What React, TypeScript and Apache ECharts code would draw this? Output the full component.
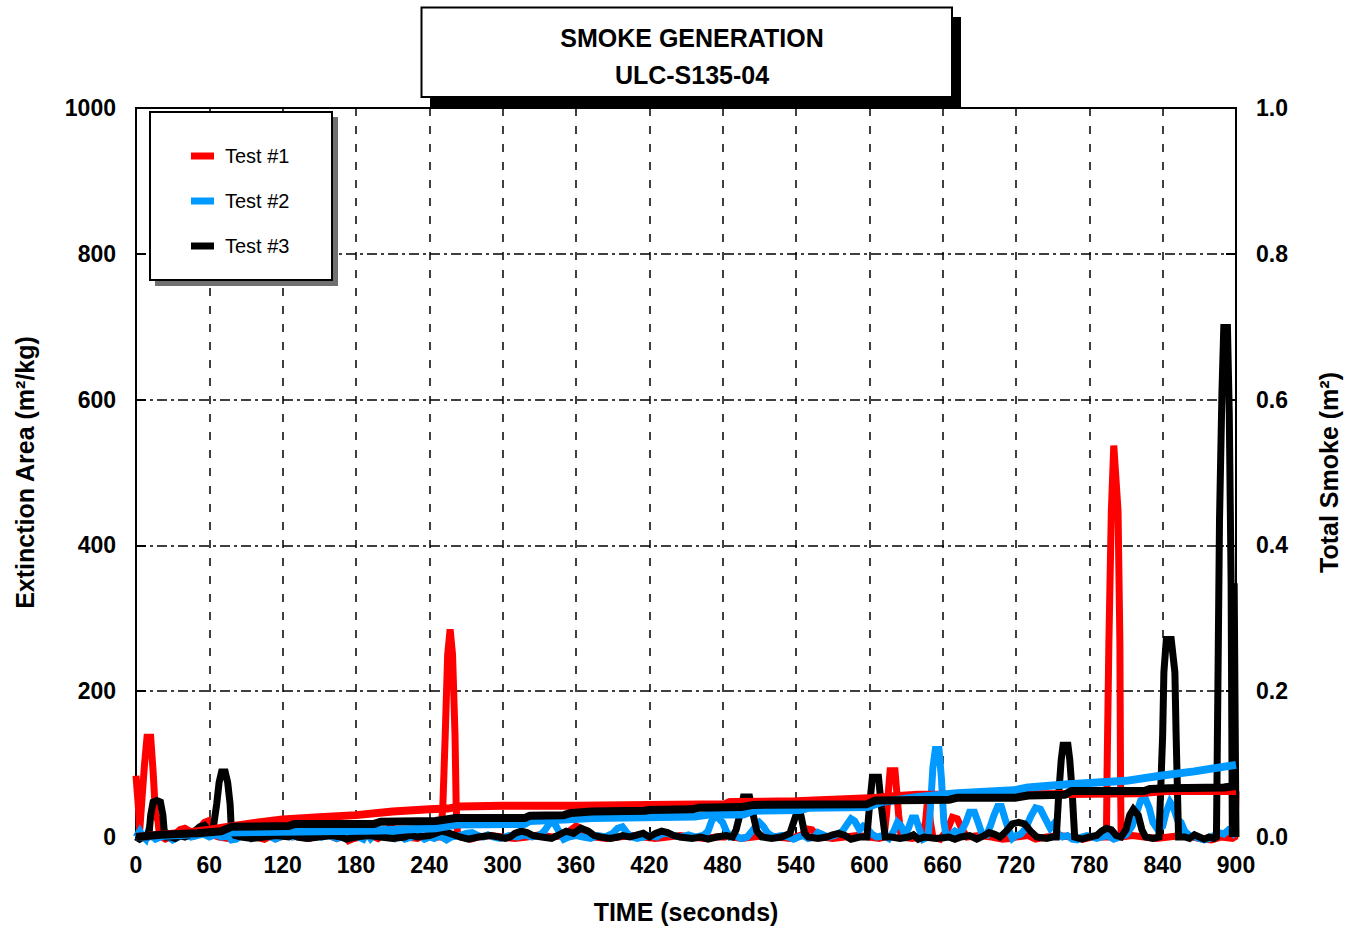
import React, { useEffect, useRef } from "react";
import * as echarts from "echarts";

// ---------- labels ----------
const TITLE_LINES = ["SMOKE GENERATION", "ULC-S135-04"];
const X_NAME = "TIME (seconds)";
const LEFT_NAME = "Extinction Area (m²/kg)";
const RIGHT_NAME = "Total Smoke (m²)";
const SERIES_NAMES = ["Test #1", "Test #2", "Test #3"];
const TOTAL_NAMES = ["Test #1 total", "Test #2 total", "Test #3 total"];
const COLORS = ["#FF0000", "#0099FF", "#000000"];

// ---------- axis ranges ----------
const X_RANGE = [0, 900, 60];
const LEFT_RANGE = [0, 1000, 200];
const RIGHT_RANGE = [0, 1, 0.2];

// ---------- extinction area (m²/kg), [time s, value] ----------
const TEST1_EXT: [number, number][] = [
  [0, 84], [2, 40], [3, 8], [5, 55], [7, 100], [9, 137], [12, 137], [14, 90], [16, 30], [18, 22], [19, 5], [21, 0],
  [24, -3], [28, 0], [32, 4], [36, 10], [40, 12], [44, 8], [48, 3], [52, 12], [56, 20], [59, 22], [61, 8], [64, 2],
  [68, 0], [75, -2], [82, 0], [90, 2], [98, 0], [105, -3], [112, 3], [118, 0], [126, 2], [134, 0], [142, -2],
  [150, 3], [154, 8], [158, 2], [164, -2], [170, 6], [174, -5], [178, -2], [184, 0], [192, 2], [198, -2], [204, 6],
  [208, 14], [212, 10], [216, 2], [222, 0], [230, -2], [238, 2], [244, 0], [249, 0], [251, 40], [253, 140],
  [255, 250], [257, 285], [259, 250], [261, 140], [262, 40], [263, 5], [266, 0], [274, -3], [280, 0], [290, 2],
  [300, 0], [310, -2], [320, 0], [330, 3], [340, 0], [350, 2], [356, 10], [360, 15], [364, 12], [368, 2], [375, 0],
  [385, -2], [395, 0], [405, 2], [415, 0], [425, -2], [435, 0], [445, 2], [455, 0], [465, -2], [475, 0], [482, 0],
  [485, 3], [488, 0], [495, -2], [505, 0], [515, 2], [525, 0], [535, -2], [545, 3], [549, 11], [553, 10], [557, 2],
  [562, 0], [570, -2], [580, 0], [590, 2], [600, 0], [608, -2], [612, 0], [614, 30], [617, 91], [621, 91], [624, 30],
  [626, 0], [635, -2], [642, 0], [646, 20], [648, 58], [650, 20], [652, 0], [658, -3], [664, 10], [668, 27],
  [672, 25], [676, 10], [680, 0], [690, 2], [700, 0], [709, -3], [715, -2], [720, 0], [730, 2], [736, -3], [745, 0],
  [755, 2], [765, 0], [775, -3], [782, 0], [790, 0], [794, 0], [794.5, 89], [796, 267], [798, 447], [800, 537],
  [803.5, 447], [805, 267], [805.5, 89], [806, 0], [815, 2], [825, 0], [835, -2], [845, 0], [855, 2], [865, 0],
  [870, -2], [880, -4], [888, 0], [897, -2], [899, 0], [900, 63],
];

const TEST2_EXT: [number, number][] = [
  [0, 0], [3, 8], [5, 2], [8, -3], [10, 8], [13, 2], [16, -3], [20, 0], [25, 2], [30, -4], [35, 0], [40, 3], [45, 0],
  [50, 2], [55, 4], [60, 0], [65, 3], [70, 0], [75, 2], [78, -4], [82, -3], [86, 2], [90, 3], [94, -2], [98, 3],
  [102, 0], [108, 2], [114, -3], [118, 0], [124, 4], [128, 0], [134, 2], [140, 0], [145, 7], [148, 3], [152, 0],
  [158, 2], [164, -2], [170, 0], [176, 3], [182, 0], [186, -3], [189, 6], [192, -2], [196, 5], [200, 10], [205, 10],
  [208, 4], [212, -2], [216, 2], [220, -3], [226, 0], [232, 2], [236, -3], [240, 0], [244, -2], [248, 2], [254, -4],
  [258, 0], [265, 2], [270, 5], [275, 6], [280, 2], [284, 0], [288, 3], [292, 0], [298, -2], [305, 2], [312, 0],
  [318, 3], [324, 0], [330, 2], [334, 8], [338, 18], [342, 20], [346, 8], [350, -3], [354, 0], [360, 2], [366, 0],
  [372, -2], [378, 2], [384, 0], [390, 5], [394, 12], [398, 14], [402, 5], [406, 0], [410, -2], [415, 0], [420, 2],
  [426, 0], [430, 4], [435, 5], [440, 2], [446, 0], [452, 3], [458, 0], [464, 2], [468, 8], [471, 22], [474, 29],
  [477, 25], [480, 20], [483, 8], [486, 0], [490, 2], [495, -2], [500, 0], [504, 8], [507, 15], [510, 20], [513, 15],
  [517, 5], [522, 0], [528, 2], [534, 0], [538, -3], [542, 0], [546, 2], [550, -2], [555, 0], [558, 6], [562, 3],
  [566, 0], [572, 2], [578, 8], [582, 18], [585, 25], [588, 22], [592, 10], [595, 15], [598, 12], [602, 4], [606, 0],
  [612, 2], [616, -2], [620, 8], [623, 20], [626, 15], [629, 4], [632, 12], [635, 26], [638, 26], [641, 10],
  [644, -3], [648, 0], [650, 40], [652, 95], [654, 120], [657, 120], [659, 80], [661, 20], [663, 0], [666, 2],
  [670, 8], [673, 5], [676, 10], [679, 20], [682, 34], [686, 34], [689, 20], [692, 5], [696, 3], [699, 15], [702, 30],
  [705, 42], [708, 42], [711, 25], [714, 10], [717, -2], [720, 2], [724, 4], [728, 12], [732, 28], [736, 40],
  [740, 38], [744, 25], [748, 12], [751, 18], [754, 5], [758, 0], [762, 2], [766, -3], [770, -4], [774, 0], [778, 2],
  [782, 0], [786, -2], [790, 0], [795, 2], [800, -3], [805, 0], [810, 3], [815, 15], [819, 35], [822, 50], [826, 52],
  [829, 40], [832, 20], [836, 10], [840, 15], [843, 35], [846, 48], [849, 40], [852, 24], [855, 20], [858, 8],
  [862, 2], [866, 0], [870, -2], [874, -4], [878, -2], [882, 2], [886, 6], [890, 4], [894, 10], [897, 8], [900, 0],
];

const TEST3_EXT: [number, number][] = [
  [0, 0], [3, -3], [6, 0], [9, 0], [11, 10], [12, 30], [14, 48], [17, 50], [20, 48], [22, 30], [23, 10], [25, 0],
  [28, 0], [32, -2], [36, 2], [40, 0], [44, 3], [48, 8], [52, 14], [56, 16], [60, 8], [63, 10], [66, 45], [68, 75],
  [70, 89], [73, 89], [75, 75], [77, 45], [78, 10], [81, 2], [86, 0], [95, -2], [105, 0], [115, 2], [125, 0],
  [128, 3], [132, 0], [140, -2], [150, 0], [160, 2], [168, 0], [172, -3], [180, 0], [190, 2], [200, 0], [210, -2],
  [220, 0], [224, 3], [230, 0], [240, 2], [245, 5], [250, 8], [255, 6], [260, 3], [265, 0], [272, -3], [280, 0],
  [290, 2], [297, 0], [302, -2], [306, 0], [310, 5], [315, 8], [320, 6], [325, 2], [332, 0], [340, -2], [346, 3],
  [352, 8], [358, 5], [364, 12], [370, 8], [375, 2], [380, 0], [388, -2], [394, 0], [398, 2], [404, 0], [410, 3],
  [415, 5], [420, 0], [425, 5], [430, 8], [435, 6], [440, 2], [445, 0], [455, -2], [462, 0], [468, -3], [475, 0],
  [483, 2], [488, 0], [491, 10], [494, 30], [497, 55], [502, 55], [505, 30], [508, 8], [512, 0], [520, -2], [528, 0],
  [535, 5], [538, 20], [541, 35], [544, 30], [547, 5], [550, 0], [558, -2], [565, 0], [570, 3], [575, 5], [580, 2],
  [585, -3], [592, 0], [598, 0], [600, 40], [602.5, 82], [607.5, 82], [610, 40], [613, 0], [618, 0], [625, -2],
  [632, 0], [636, 3], [640, -3], [645, 0], [655, -2], [665, 0], [670, -3], [675, 0], [682, 2], [688, -3], [694, 2],
  [698, 6], [702, 4], [707, 0], [712, 8], [717, 18], [722, 20], [727, 18], [732, 8], [737, 0], [745, -2], [750, 0],
  [753, 0], [755, 60], [757, 106], [758.5, 126], [762.5, 126], [764, 106], [766, 60], [768, 0], [774, -3], [780, 0],
  [786, 2], [790, 8], [794, 12], [798, 10], [802, 2], [806, 0], [810, 10], [813, 30], [816, 38], [820, 30], [823, 10],
  [826, 0], [832, -2], [837, 0], [840, 140], [841, 226], [843, 271], [847, 271], [850, 226], [851, 140], [853, 0],
  [858, 0], [862, -2], [866, 3], [870, 0], [874, -3], [878, 0], [882, -2], [884, 0], [885.5, 260], [886.5, 434],
  [888.5, 610], [890, 699], [893, 699], [894.5, 580], [896, 348], [897, 0], [898.5, 348], [899.5, 116], [900, 0],
];

// ---------- total smoke (m²), [time s, value] ----------
const TEST1_TOTAL: [number, number][] = [
  [0, 0], [20, 0.003], [40, 0.006], [60, 0.01], [80, 0.015], [100, 0.02], [120, 0.024], [150, 0.027], [180, 0.03],
  [210, 0.035], [240, 0.038], [255, 0.039], [265, 0.042], [300, 0.043], [360, 0.043], [420, 0.044], [482, 0.045],
  [486, 0.048], [540, 0.049], [600, 0.053], [620, 0.056], [640, 0.058], [700, 0.058], [760, 0.059], [820, 0.06],
  [843, 0.063], [900, 0.063],
];

const TEST2_TOTAL: [number, number][] = [
  [0, 0], [40, 0.003], [60, 0.006], [100, 0.007], [200, 0.009], [245, 0.012], [262, 0.017], [318, 0.018],
  [322, 0.022], [350, 0.024], [373, 0.026], [457, 0.028], [470, 0.031], [497, 0.031], [505, 0.036], [543, 0.037],
  [550, 0.04], [598, 0.041], [610, 0.048], [640, 0.055], [672, 0.06], [718, 0.064], [730, 0.068], [760, 0.072],
  [810, 0.077], [838, 0.084], [866, 0.09], [900, 0.099],
];

const TEST3_TOTAL: [number, number][] = [
  [0, 0], [20, 0.003], [50, 0.005], [70, 0.008], [78, 0.014], [125, 0.015], [130, 0.018], [195, 0.018], [200, 0.021],
  [245, 0.022], [262, 0.026], [318, 0.026], [322, 0.029], [350, 0.03], [356, 0.033], [373, 0.035], [416, 0.036],
  [420, 0.037], [455, 0.038], [460, 0.04], [495, 0.041], [505, 0.044], [598, 0.045], [605, 0.05], [665, 0.051],
  [672, 0.054], [720, 0.054], [730, 0.057], [760, 0.058], [765, 0.063], [825, 0.063], [830, 0.066], [845, 0.067],
  [890, 0.068], [900, 0.07],
];

const EXT_DATA = [TEST1_EXT, TEST2_EXT, TEST3_EXT];
const TOTAL_DATA = [TEST1_TOTAL, TEST2_TOTAL, TEST3_TOTAL];

const FONT = "'Liberation Sans', Arial, Helvetica, sans-serif";

export default function App() {
  const ref = useRef<HTMLDivElement>(null);

  useEffect(() => {
    if (!ref.current) return;
    const chart = echarts.init(ref.current, undefined, { renderer: "svg" });

    const boldText = { color: "#000", fontFamily: FONT, fontWeight: "bold" as const, fontSize: 23 };
    const nameText = { ...boldText, fontSize: 25 };

    const extSeries = [0, 1, 2].map((i) => ({
      name: SERIES_NAMES[i],
      type: "line" as const,
      yAxisIndex: 0,
      data: EXT_DATA[i],
      showSymbol: false,
      symbol: "none",
      clip: false,
      lineStyle: { color: COLORS[i], width: 7, join: "miter" as const },
      itemStyle: { color: COLORS[i] },
      z: 3,
    }));
    const totalSeries = [0, 1, 2].map((i) => ({
      name: TOTAL_NAMES[i],
      type: "line" as const,
      yAxisIndex: 1,
      data: TOTAL_DATA[i],
      showSymbol: false,
      symbol: "none",
      lineStyle: { color: COLORS[i], width: 8 },
      itemStyle: { color: COLORS[i] },
      z: 4,
    }));

    chart.setOption({
      animation: false,
      backgroundColor: "#fff",
      textStyle: { fontFamily: FONT },
      title: {
        text: TITLE_LINES.join("\n"),
        left: 687,
        top: 14,
        textAlign: "center",
        z: 20,
        textStyle: { ...boldText, fontSize: 25, lineHeight: 37 },
      },
      legend: {
        data: SERIES_NAMES,
        orient: "vertical",
        left: 186,
        top: 141,
        itemWidth: 23,
        itemHeight: 7,
        itemGap: 25,
        icon: "rect",
        z: 20,
        selectedMode: false,
        textStyle: { color: "#000", fontFamily: FONT, fontSize: 20, padding: [0, 0, 0, 6] },
      },
      graphic: [
        { type: "rect", z: 10, shape: { x: 430, y: 17, width: 531, height: 90 }, style: { fill: "#000" } },
        {
          type: "rect", z: 11,
          shape: { x: 421.5, y: 7.5, width: 530.5, height: 89.5 },
          style: { fill: "#fff", stroke: "#000", lineWidth: 2 },
        },
        { type: "rect", z: 10, shape: { x: 155, y: 117, width: 183, height: 169 }, style: { fill: "#707070" } },
        {
          type: "rect", z: 11,
          shape: { x: 150, y: 112, width: 182, height: 168 },
          style: { fill: "#fff", stroke: "#000", lineWidth: 2 },
        },
      ],
      grid: {
        left: 136, right: 123, top: 108, bottom: 91,
        show: true, borderColor: "#000", borderWidth: 2, containLabel: false,
      },
      xAxis: {
        type: "value",
        min: X_RANGE[0], max: X_RANGE[1], interval: X_RANGE[2],
        name: X_NAME, nameLocation: "middle", nameGap: 62,
        nameTextStyle: nameText,
        axisLine: { show: true, lineStyle: { color: "#000", width: 2 } },
        axisTick: { show: true, inside: true, length: 10, lineStyle: { color: "#000", width: 2 } },
        axisLabel: { ...boldText, margin: 16, formatter: (v: number) => String(v) },
        splitLine: { show: true, lineStyle: { color: "#000", width: 1.5, type: [8, 10] } },
      },
      yAxis: [
        {
          type: "value", position: "left",
          min: LEFT_RANGE[0], max: LEFT_RANGE[1], interval: LEFT_RANGE[2],
          name: LEFT_NAME, nameLocation: "middle", nameGap: 99, nameRotate: 90,
          nameTextStyle: nameText,
          axisLine: { show: true, lineStyle: { color: "#000", width: 2 } },
          axisTick: { show: true, inside: true, length: 10, lineStyle: { color: "#000", width: 2 } },
          axisLabel: { ...boldText, margin: 20, formatter: (v: number) => String(v) },
          splitLine: { show: true, lineStyle: { color: "#000", width: 1.5, type: [10, 4, 3, 4] } },
        },
        {
          type: "value", position: "right",
          min: RIGHT_RANGE[0], max: RIGHT_RANGE[1], interval: RIGHT_RANGE[2],
          name: RIGHT_NAME, nameLocation: "middle", nameGap: 80, nameRotate: 90,
          nameTextStyle: nameText,
          axisLine: { show: true, lineStyle: { color: "#000", width: 2 } },
          axisTick: { show: true, inside: true, length: 10, lineStyle: { color: "#000", width: 2 } },
          axisLabel: { ...boldText, margin: 20, formatter: (v: number) => v.toFixed(1) },
          splitLine: { show: false },
        },
      ],
      series: [...extSeries, ...totalSeries],
    });

    return () => chart.dispose();
  }, []);

  return (
    <div
      ref={ref}
      style={{ position: "fixed", left: 0, top: 0, width: 1359, height: 929, background: "#fff" }}
    />
  );
}
